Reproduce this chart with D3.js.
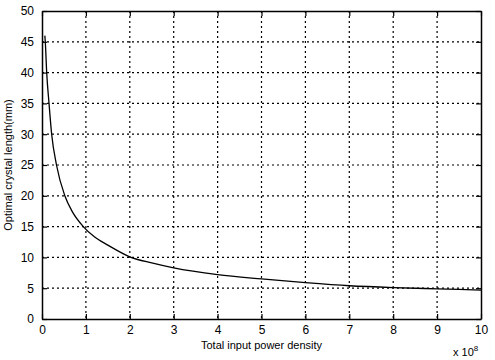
<!DOCTYPE html>
<html><head><meta charset="utf-8">
<script src="https://cdn.jsdelivr.net/npm/d3@7"></script>
<style>body{margin:0;background:#fff}text{font-family:"Liberation Sans",Arial,sans-serif;fill:#000}</style>
</head><body><svg id="c" width="495" height="360"></svg>
<script>
const xTicks = [0,1,2,3,4,5,6,7,8,9,10];
const yTicks = [0,5,10,15,20,25,30,35,40,45,50];
const powerDensity = [0.065,0.075,0.107,0.16,0.22,0.33,0.52,0.7,0.94,1.2,1.5,2,2.5,3,4,5,6,7,8,9,10];
const crystalLength = [46,45,40,35,30,25,20,17.3,15,13.3,12,10.1,9.1,8.3,7.2,6.5,5.9,5.4,5.1,4.9,4.7];

const svg = d3.select("#c");
const L=42, R=481, T=11, B=319;
const x = d3.scaleLinear().domain([0,10]).range([L,R]);
const y = d3.scaleLinear().domain([0,50]).range([B,T]);

const g = svg.append("g");
g.selectAll(".gx").data(xTicks.slice(1,-1)).enter().append("line")
 .attr("x1",d=>x(d)).attr("x2",d=>x(d)).attr("y1",T).attr("y2",B)
 .attr("stroke","#000").attr("stroke-width",1.2).attr("stroke-dasharray","2,3");
g.selectAll(".gy").data(yTicks.slice(1,-1)).enter().append("line")
 .attr("y1",d=>y(d)).attr("y2",d=>y(d)).attr("x1",L).attr("x2",R)
 .attr("stroke","#000").attr("stroke-width",1.2).attr("stroke-dasharray","2,3");

const ax = d3.axisBottom(x).tickValues(xTicks).tickSizeInner(-5).tickSizeOuter(0).tickPadding(6);
const ay = d3.axisLeft(y).tickValues(yTicks).tickSizeInner(-5).tickSizeOuter(0).tickPadding(8);
const axT = d3.axisTop(x).tickValues(xTicks).tickSizeInner(-5).tickSizeOuter(0).tickFormat("");
const ayR = d3.axisRight(y).tickValues(yTicks).tickSizeInner(-5).tickSizeOuter(0).tickFormat("");
const gx = svg.append("g").attr("transform",`translate(0,${B})`).call(ax);
const gy = svg.append("g").attr("transform",`translate(${L},0)`).call(ay);
const gt = svg.append("g").attr("transform",`translate(0,${T})`).call(axT);
const gr = svg.append("g").attr("transform",`translate(${R},0)`).call(ayR);
[gx,gy,gt,gr].forEach(a=>{
  a.selectAll("path").attr("stroke","#000").attr("stroke-width",1.5);
  a.selectAll("line").attr("stroke","#000").attr("stroke-width",1.2);
  a.selectAll("text").style("font-size","12px").style("font-family","'Liberation Sans',Arial,sans-serif").attr("fill","#000");
});

const line = d3.line().x((d,i)=>x(powerDensity[i])).y(d=>y(d)).curve(d3.curveMonotoneX);
svg.append("path").datum(crystalLength).attr("d",line)
 .attr("fill","none").attr("stroke","#000").attr("stroke-width",1.3);

svg.append("text").attr("x",(L+R)/2).attr("y",349).attr("text-anchor","middle")
 .style("font-size","11px").text("Total input power density");
svg.append("text").attr("transform",`translate(12,${(T+B)/2}) rotate(-90)`).attr("text-anchor","middle")
 .style("font-size","11px").text("Optimal crystal length(mm)");
const m = svg.append("text").attr("x",453).attr("y",356).style("font-size","11px");
m.append("tspan").text("x 10");
m.append("tspan").attr("dy",-5).style("font-size","8px").text("8");
</script></body></html>
